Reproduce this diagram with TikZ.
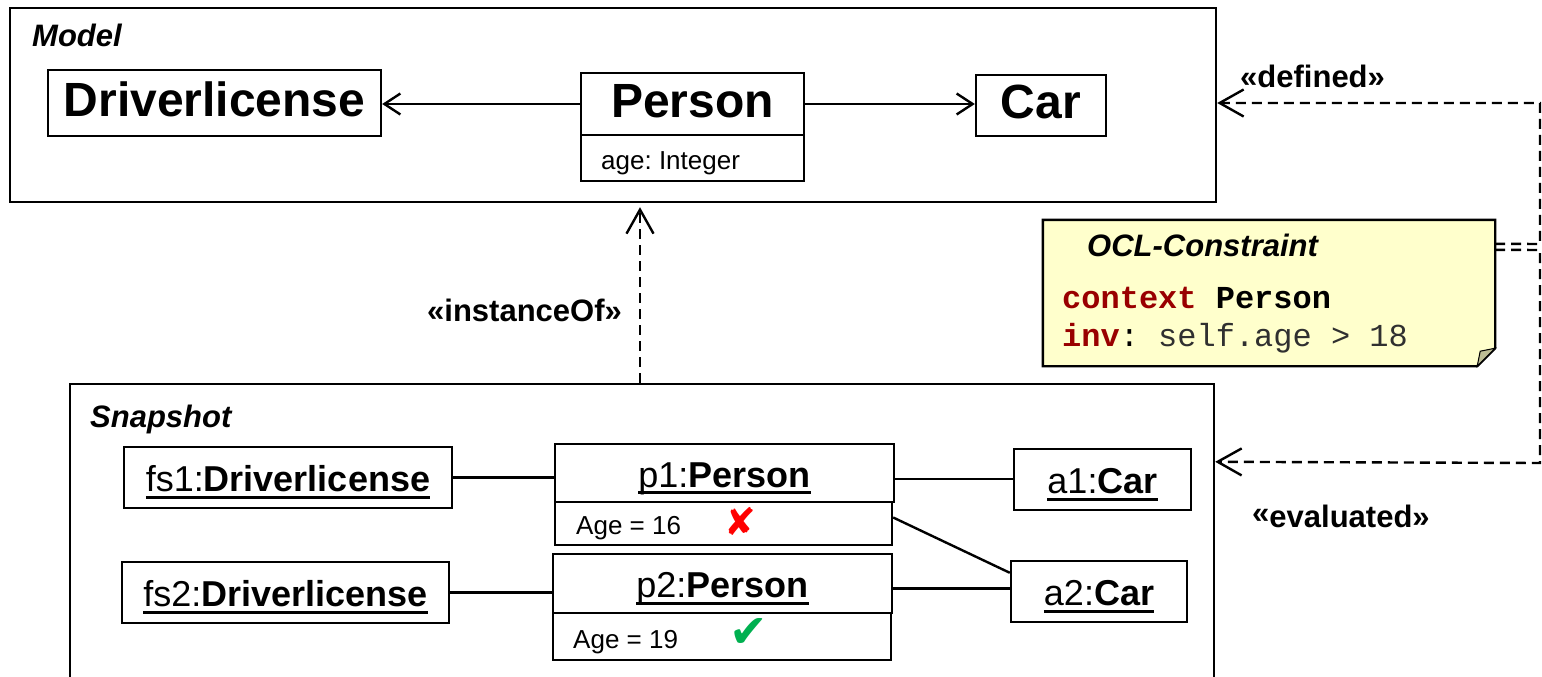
\documentclass[tikz,border=0pt]{standalone}
\usepackage{fontspec}
\setmainfont{Liberation Sans}
\newfontfamily\codefont{Liberation Mono}
\newfontfamily\symfont{DejaVu Sans}
\usetikzlibrary{arrows.meta}
\frenchspacing

\definecolor{notefill}{HTML}{FFFFCC}
\definecolor{foldfill}{HTML}{BDBD95}
\definecolor{keyword}{HTML}{990000}
\definecolor{okgreen}{HTML}{00B050}
\definecolor{codegray}{HTML}{303030}

% font size in points, line spacing equal to the size
\newcommand{\sizept}[1]{\fontsize{#1}{#1}\selectfont}
% underlined object name (thick rule under the whole text)
\newsavebox{\ulbox}
\newcommand{\ulined}[1]{\sbox{\ulbox}{#1}\rlap{\rule[-7pt]{\wd\ulbox}{3pt}}\usebox{\ulbox}}

\tikzset{
  frame/.style={draw, line width=2.4pt, inner sep=0pt},
  framelabel/.style={inner sep=0pt, font=\sizept{31}\bfseries\itshape},
  clsbox/.style={draw, line width=2.4pt, inner sep=0pt, fill=white,
    font=\sizept{48}\bfseries, text height=26pt, text depth=0pt},
  objbox/.style={draw, line width=2.4pt, inner sep=0pt, fill=white,
    font=\sizept{36}, text height=28pt, text depth=0pt},
  compart/.style={draw, line width=2.4pt, inner sep=0pt, fill=white},
  attrtext/.style={inner sep=0pt, font=\sizept{26}},
  slotlabel/.style={inner sep=0pt, font=\sizept{31}\bfseries},
  codeline/.style={inner sep=0pt, font=\codefont\sizept{32}},
  assoc/.style={line width=2.4pt},
  navarrow/.style={line width=2.4pt, -{Straight Barb[length=16pt, width=21pt]}},
  dep/.style={line width=2.4pt, dash pattern=on 10pt off 6pt,
    -{Straight Barb[length=24pt, width=27pt]}},
}

\begin{document}
\begin{tikzpicture}[x=1pt, y=-1pt]
\useasboundingbox (0,0) rectangle (1542,677);
\clip (0,0) rectangle (1542,677);

% ---------------- class model ----------------
\node[frame, minimum width=1206pt, minimum height=194pt] (model) at (613,105) {};
\node[framelabel, anchor=base west] (modeltitle) at (32,47) {Model};

\node[clsbox, minimum width=333pt, minimum height=66pt] (dl) at (214.5,103) {Driverlicense};
\node[clsbox, minimum width=223pt, minimum height=62pt] (person) at (692.5,104) {Person};
\node[compart, minimum width=223pt, minimum height=46pt] (personattr) at (692.5,158) {};
\node[attrtext, anchor=base west] (agetype) at (601,169) {age: Integer};
\node[clsbox, minimum width=130pt, minimum height=61pt] (car) at (1041,105.5) {Car};

\draw[navarrow] (person.west) -- (person.west -| dl.east);
\draw[navarrow] (person.east) -- (person.east -| car.west);

% ---------------- snapshot ----------------
\node[frame, minimum width=1144pt, minimum height=336pt] (snap) at (642,552) {};
\node[framelabel, anchor=base west] (snaptitle) at (90,427) {Snapshot};

\node[objbox, minimum width=328pt, minimum height=61pt] (fs1) at (288,477.5) {\ulined{fs1:\textbf{Driverlicense}}};
\node[objbox, minimum width=327pt, minimum height=61pt] (fs2) at (285.5,592.5) {\ulined{fs2:\textbf{Driverlicense}}};

\node[objbox, minimum width=339pt, minimum height=58pt] (p1) at (724.5,473) {\ulined{p1:\textbf{Person}}};
\node[compart, minimum width=337pt, minimum height=43pt] (p1attr) at (723.5,523.5) {};
\node[attrtext, anchor=base west] (p1age) at (576,534) {Age = 16};
\node[inner sep=0pt, font=\symfont\sizept{38}, text=red] (p1bad) at (740,521) {✘};

\node[objbox, minimum width=339pt, minimum height=59pt] (p2) at (722.5,583.5) {\ulined{p2:\textbf{Person}}};
\node[compart, minimum width=338pt, minimum height=47pt] (p2attr) at (722,636.5) {};
\node[attrtext, anchor=base west] (p2age) at (573,648) {Age = 19};
\node[inner sep=0pt, font=\symfont\sizept{46}, text=okgreen] (p2good) at (749,633) {✔};

\node[objbox, minimum width=177pt, minimum height=61pt] (a1) at (1102.5,479.5) {\ulined{a1:\textbf{Car}}};
\node[objbox, minimum width=176pt, minimum height=61pt] (a2) at (1099,591.5) {\ulined{a2:\textbf{Car}}};

\draw[assoc] (fs1.east) -- (fs1.east -| p1.west);
\draw[assoc] ([yshift=-6pt]p1.east) -- ([yshift=-6pt]p1.east -| a1.west);
\draw[assoc] ([yshift=6pt]p1attr.east) -- ([yshift=-13pt]a2.north west);
\draw[assoc] (fs2.east) -- (fs2.east -| p2.west);
\draw[assoc] ([yshift=-5pt]p2.east) -- ([yshift=-5pt]p2.east -| a2.west);

% ---------------- instanceOf ----------------
\draw[dep] ([xshift=-2pt]snap.north) -- ([xshift=-2pt, yshift=-4pt]snap.north |- model.south);
\node[slotlabel, anchor=base west] (instlabel) at (427,321) {«instanceOf»};

% ---------------- OCL note ----------------
\node[minimum width=452pt, minimum height=146pt, inner sep=0pt] (note) at (1269,293) {};
\draw[line width=2.4pt, fill=notefill, line join=miter]
  (note.north west) -- (note.north east) -- ([yshift=18pt]note.south east)
  -- ([xshift=-18pt]note.south east) -- (note.south west) -- cycle;
\draw[line width=1pt, fill=foldfill]
  ([yshift=18pt]note.south east) -- ([xshift=-18pt]note.south east)
  -- ([xshift=-15pt, yshift=15pt]note.south east) -- cycle;
\node[framelabel, anchor=base west] (notetitle) at (1087,256) {OCL-Constraint};
\node[codeline, anchor=base west] (ctxline) at (1062,308)
  {{\bfseries\color{keyword}context} \textbf{Person}};
\node[codeline, anchor=base west] (invline) at (1062,346)
  {{\bfseries\color{keyword}inv}: {\color{codegray}self.age > 18}};

% ---------------- defined / evaluated ----------------
\draw[dep] ([yshift=-24pt]note.north east) -- (1540,244) -- (1540,103) -- ([yshift=2pt]model.east);
\draw[dep] ([yshift=-30pt]note.north east) -- (1540,250) -- (1540,463) -- ([yshift=-79pt]snap.north east);
\node[slotlabel, anchor=base west] (deflabel) at (1240,88) {«defined»};
\node[slotlabel, anchor=base west] (evallabel) at (1252,527) {\raisebox{4pt}{«}evaluated»};

\end{tikzpicture}
\end{document}
